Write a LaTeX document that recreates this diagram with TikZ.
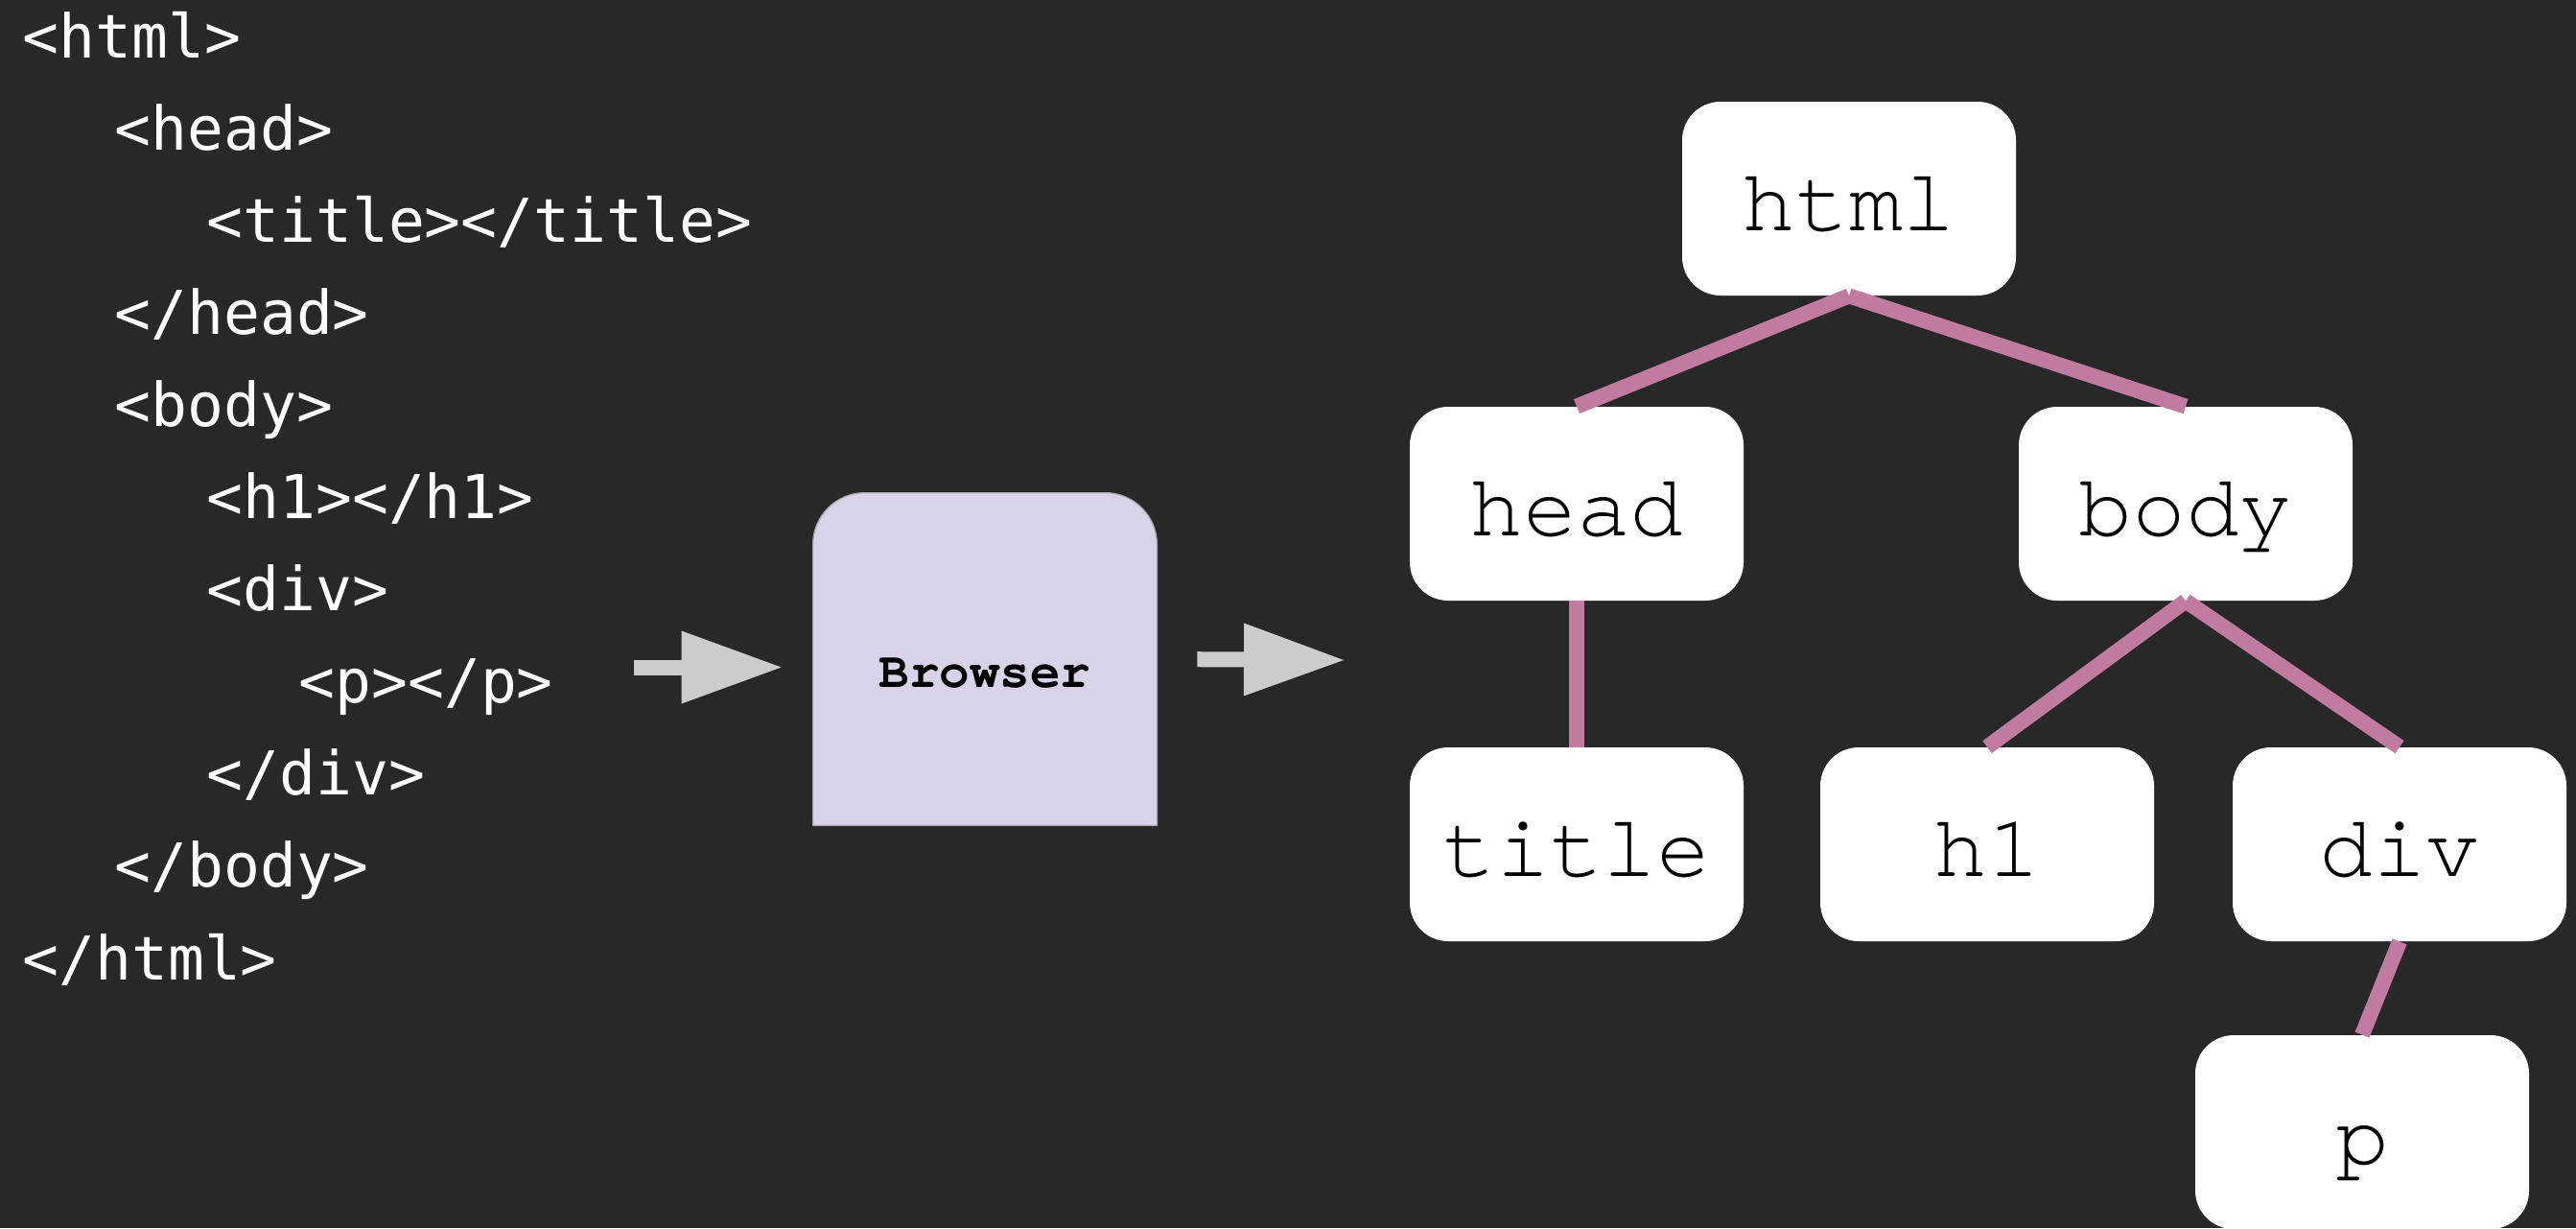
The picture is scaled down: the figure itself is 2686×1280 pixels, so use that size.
\documentclass[tikz,border=0pt]{standalone}
\usepackage{fontspec}
\usepackage{tikz}
\usepackage{xcolor}
\usetikzlibrary{arrows.meta}

\newfontfamily\codefont{DejaVu Sans Mono}
\newfontfamily\tagfont{TeX Gyre Cursor}

\definecolor{slate}{HTML}{282828}
\definecolor{lilac}{HTML}{D9D2E9}
\definecolor{mauve}{HTML}{C27BA0}
\definecolor{arrowgrey}{HTML}{CCCCCC}

\tikzset{
  codeline/.style={anchor=base west, inner sep=0pt, text=white,
    font=\codefont\fontsize{31.5}{31.5}\selectfont},
  tagbox/.style={fill=white, rounded corners=20pt, inner sep=0pt,
    minimum width=174pt, minimum height=101pt,
    text height=33pt, text depth=0pt,
    font=\tagfont\fontsize{46.5}{46.5}\selectfont},
  branch/.style={draw=mauve, line width=8pt},
  flow/.style={draw=arrowgrey, line width=8pt,
    -{Triangle[length=52pt,width=38pt,line width=0pt]}},
}

\begin{document}
\begin{tikzpicture}[x=0.5pt,y=-0.5pt]
  \useasboundingbox (0,0) rectangle (2686,1280);
  \fill[slate] (0,0) rectangle (2686,1280);

  % source listing
  \path (23,60)
    node (chtml) [codeline] {<html>} ++(96,96.1)
    node (chead) [codeline] {<head>} ++(96,96.1)
    node (ctitle) [codeline] {<title></title>} ++(-96,96.1)
    node (cheadend) [codeline] {</head>} ++(0,96.1)
    node (cbody) [codeline] {<body>} ++(96,96.1)
    node (ch1) [codeline] {<h1></h1>} ++(0,96.1)
    node (cdiv) [codeline] {<div>} ++(96,96.1)
    node (cp) [codeline] {<p></p>} ++(-96,96.1)
    node (cdivend) [codeline] {</div>} ++(-96,96.1)
    node (cbodyend) [codeline] {</body>} ++(-96,96.1)
    node (chtmlend) [codeline] {</html>}
    ;

  % browser box, top corners rounded
  \node [minimum width=179pt, minimum height=173pt, inner sep=0pt]
    (browser) at (1027,687) {};
  \filldraw [fill=lilac, draw=gray!70, line width=0.6pt]
    (browser.south west) [rounded corners=27pt] -- (browser.north west)
    -- (browser.north east) [sharp corners] -- (browser.south east) -- cycle;
  \node [anchor=base, inner sep=0pt,
    font=\tagfont\bfseries\fontsize{26.3}{26.3}\selectfont]
    (brlabel) at ([yshift=-14.5pt]browser.center) {Browser};

  \coordinate (src) at (661,695.5);
  \coordinate (dst) at (1401,688);
  \draw [flow, shorten >=16.5pt] (src) -- (browser.west |- src);
  \draw [flow, shorten <=21pt] (browser.east) -- (dst);

  % dom tree
  \node (html) [tagbox] at (1928,207) {html};
  \node (head) [tagbox] at (1644,525) {head};
  \node (body) [tagbox] at (2279,525) {body};
  \node (title) [tagbox] at (1644,880) {title};
  \node (h1) [tagbox] at (2072,880) {h1};
  \node (div) [tagbox] at (2502,880) {div};
  \node (p) [tagbox] at (2463,1180) {p};

  \draw [branch] (html.south) -- (head.north);
  \draw [branch] (html.south) -- (body.north);
  \draw [branch] (head.south) -- (title.north);
  \draw [branch] (body.south) -- (h1.north);
  \draw [branch] (body.south) -- (div.north);
  \draw [branch] (div.south) -- (p.north);
\end{tikzpicture}
\end{document}
